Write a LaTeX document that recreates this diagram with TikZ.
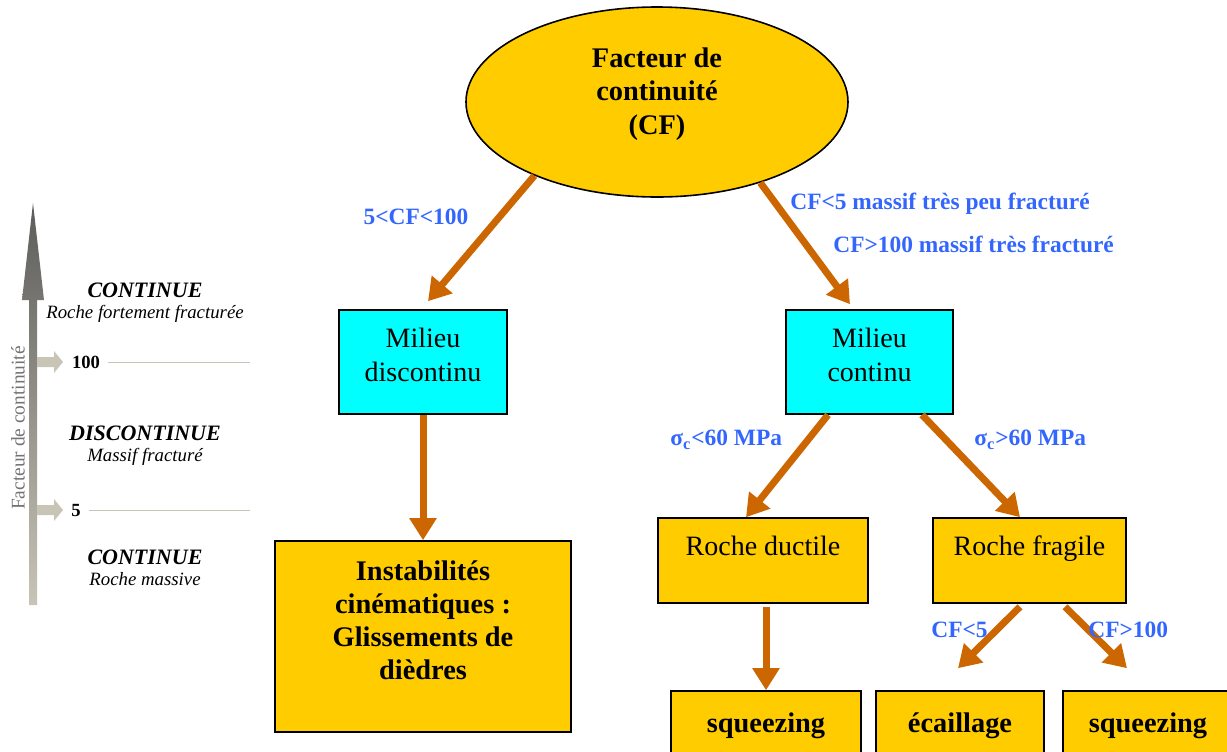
\documentclass[tikz,border=0pt]{standalone}
\usepackage{fontspec}
\setmainfont{Liberation Serif}
\usetikzlibrary{positioning, arrows.meta, shapes.geometric}

\definecolor{gold}{RGB}{255,204,0}
\definecolor{aqua}{RGB}{0,255,255}
\definecolor{rust}{RGB}{204,102,0}
\definecolor{labelblue}{RGB}{51,102,255}
\definecolor{scalegray}{RGB}{200,196,182}
\definecolor{darkscale}{RGB}{92,92,90}

\begin{document}
\begin{tikzpicture}[x=0.5pt, y=-0.5pt,
    % --- STYLES ---
    cf_node/.style={ellipse, draw, fill=gold, line width=0.8pt, inner sep=0pt,
        minimum width=191pt, minimum height=95pt, align=center, text depth=11pt,
        font=\bfseries\fontsize{14.2}{16.8}\selectfont},
    milieu_box/.style={draw, fill=aqua, line width=0.8pt, align=center,
        minimum width=84pt, minimum height=52pt, text depth=7pt,
        font=\fontsize{14}{17}\selectfont},
    roche_box/.style={draw, fill=gold, line width=0.8pt, align=center,
        minimum height=42.5pt, text depth=15pt, font=\fontsize{14}{16}\selectfont},
    result_box/.style={draw, fill=gold, line width=0.8pt, align=center,
        minimum height=35pt, font=\bfseries\fontsize{14.2}{16}\selectfont},
    flow/.style={rust, line width=3.5pt, -{Triangle[length=11pt,width=13pt]}},
    cond/.style={text=labelblue, inner sep=0pt, font=\bfseries\fontsize{11.7}{13}\selectfont},
    zone_title/.style={font=\bfseries\itshape\fontsize{11}{12}\selectfont, inner sep=0pt},
    zone_text/.style={font=\itshape\fontsize{9.4}{11}\selectfont, inner sep=0pt},
    tick_label/.style={font=\bfseries\fontsize{9.3}{10}\selectfont, inner sep=0pt},
    tick_line/.style={scalegray, line width=0.5pt}
]
\useasboundingbox (0,0) rectangle (1227,751);

% --- LEFT SCALE ---
% big shaded arrow
\shade[top color=darkscale, bottom color=scalegray]
    (29,605) -- (29,300) -- (22,300) -- (33,203) -- (44,300) -- (37,300) -- (37,605) -- cycle;
% small arrows at the thresholds
\fill[scalegray] (37,357) -- (54,357) -- (54,351) -- (63,362) -- (54,373) -- (54,367) -- (37,367) -- cycle;
\fill[scalegray] (37,505) -- (54,505) -- (54,499) -- (63,510) -- (54,521) -- (54,515) -- (37,515) -- cycle;

\node[rotate=90, text=black!55, font=\fontsize{9.7}{11}\selectfont] (axis) at (18,428) {Facteur de continuité};

\node[tick_label] (t100) at (86,362) {100};
\node[tick_label] (t5) at (76,510) {5};
\coordinate (t100_end) at (250,362);
\coordinate (t5_end) at (250,510);
\draw[tick_line] ([xshift=4pt]t100.east) -- (t100_end);
\draw[tick_line] ([xshift=4pt]t5.east) -- (t5_end);

\node[zone_title] (z1) at (145,290) {CONTINUE};
\node[zone_text, below=3.5pt of z1] (z1_txt) {Roche fortement fracturée};
\node[zone_title] (z2) at (145,433) {DISCONTINUE};
\node[zone_text, below=3.5pt of z2] (z2_txt) {Massif fracturé};
\node[zone_title] (z3) at (145,557) {CONTINUE};
\node[zone_text, below=3.5pt of z3] (z3_txt) {Roche massive};

% --- TREE ---
\node[cf_node] (cf) at (657,102) {Facteur de\\continuité\\(CF)};

\node[milieu_box] (md) at (423,362) {Milieu\\discontinu};
\node[milieu_box, minimum width=83.5pt] (mc) at (869.5,362) {Milieu\\continu};

\node[draw, fill=gold, line width=0.8pt, align=center, minimum width=148pt, minimum height=95.5pt,
    text depth=16pt, font=\bfseries\fontsize{14.2}{16.5}\selectfont] (ins) at (423,636.5)
    {Instabilités\\cinématiques :\\Glissements de\\dièdres};

\node[roche_box, minimum width=105pt] (rd) at (763,560.5) {Roche ductile};
\node[roche_box, minimum width=96.5pt] (rf) at (1029.5,560.5) {Roche fragile};

\node[result_box, minimum width=95pt] (sq1) at (766,726) {squeezing};
\node[result_box, minimum width=84pt] (ec) at (960,726) {écaillage};
\node[result_box, minimum width=85pt] (sq2) at (1148,726) {squeezing};

% --- ARROWS ---
\draw[flow] (cf.211) -- ([xshift=2.5pt,yshift=4pt]md.north);
\draw[flow] (cf.322) -- ([xshift=-9.75pt,yshift=2.5pt]mc.north);
\draw[flow] (md.south) -- (ins.north);
\draw[flow] ([xshift=-20.75pt]mc.south) -- ([xshift=-8.5pt]rd.north);
\draw[flow] ([xshift=26.25pt]mc.south) -- ([xshift=-4.75pt]rf.north);
\draw[flow] ([yshift=-1.5pt]sq1.north |- rd.south) -- (sq1.north);
\draw[flow] ([xshift=-4.75pt,yshift=-1.5pt]rf.south) -- ([xshift=-1pt,yshift=11pt]ec.north);
\draw[flow] ([xshift=17.75pt,yshift=-1.5pt]rf.south) -- ([xshift=-10.5pt,yshift=11pt]sq2.north);

% --- CONDITIONS ---
\node[cond] (c1) at (416,217) {5<CF<100};
\node[cond, anchor=west] (c2) at (790,204) {CF<5 massif très peu fracturé};
\node[cond, anchor=west] (c3) at (833,244) {CF>100 massif très fracturé};
\node[cond, anchor=west] (c4) at (670,440) {σ\textsubscript{c}<60 MPa};
\node[cond, anchor=west] (c5) at (974,440) {σ\textsubscript{c}>60 MPa};
\node[cond, anchor=west] (c6) at (931,630) {CF<5};
\node[cond, anchor=west] (c7) at (1088,630) {CF>100};

\end{tikzpicture}
\end{document}
